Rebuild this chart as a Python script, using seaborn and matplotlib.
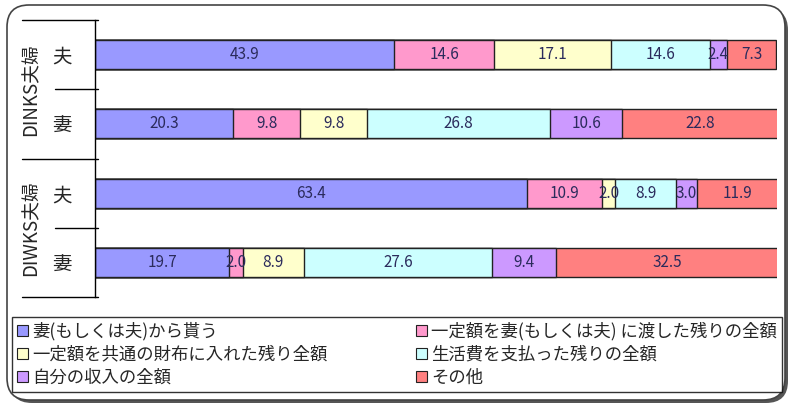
import numpy as np
import pandas as pd
import seaborn as sns
import matplotlib.pyplot as plt
from matplotlib.patches import Patch, FancyBboxPatch

sns.set_style("white")
plt.rcParams['font.family'] = ['Noto Sans CJK JP', 'DejaVu Sans']

# data
groups = ["DINKS夫婦", "DIWKS夫婦"]
rows = ["DINKS夫", "DINKS妻", "DIWKS夫", "DIWKS妻"]
persons = ["夫", "妻", "夫", "妻"]
categories = ["妻(もしくは夫)から貰う",
              "一定額を妻(もしくは夫) に渡した残りの全額",
              "一定額を共通の財布に入れた残り全額",
              "生活費を支払った残りの全額",
              "自分の収入の全額",
              "その他"]
colors = ["#9999FF", "#FF99CC", "#FFFFCC", "#CCFFFF", "#CC99FF", "#FF8080"]

v_receive = [43.9, 20.3, 63.4, 19.7]
v_pass = [14.6, 9.8, 10.9, 2.0]
v_common = [17.1, 9.8, 2.0, 8.9]
v_living = [14.6, 26.8, 8.9, 27.6]
v_own = [2.4, 10.6, 3.0, 9.4]
v_other = [7.3, 22.8, 11.9, 32.5]

df = pd.DataFrame(np.array([v_receive, v_pass, v_common, v_living, v_own, v_other]).T,
                  index=rows, columns=categories)
cum = df.cumsum(axis=1)

fig = plt.figure(figsize=(8, 4.07), dpi=100)

# rounded outer frame with a little shadow
shadow = FancyBboxPatch((0.10, 0.04), 7.78, 3.95, boxstyle="round,pad=0,rounding_size=0.22",
                        transform=fig.dpi_scale_trans, facecolor="#555555",
                        edgecolor="none", zorder=-2)
frame = FancyBboxPatch((0.07, 0.07), 7.78, 3.95, boxstyle="round,pad=0,rounding_size=0.22",
                       transform=fig.dpi_scale_trans, facecolor="white",
                       edgecolor="#444444", linewidth=1.2, zorder=-1)
fig.add_artist(shadow)
fig.add_artist(frame)

ax = fig.add_axes([95/800, 1-297/407, 682/800, 277/407])
ax.set_facecolor("none")

# stacked bars: draw cumulative totals from the last segment back to the first
for k in range(len(categories) - 1, -1, -1):
    sns.barplot(x=cum.iloc[:, k].values, y=rows, orient="h", color=colors[k],
                saturation=1, edgecolor="#222222", linewidth=1.0, width=0.42, ax=ax)

for i, r in enumerate(rows):
    left = 0
    for c in categories:
        v = df.loc[r, c]
        ax.text(left + v/2, i, f"{v:.1f}", ha="center", va="center",
                fontsize=11, color="#2b2b5c")
        left += v

ax.set_xlim(0, 100)
ax.set_ylim(3.5, -0.5)
ax.set_xticks([])
ax.set_xlabel("")
ax.set_yticks(range(len(rows)))
ax.set_yticklabels(persons, fontsize=14)
ax.tick_params(axis="y", length=0, pad=17)
for s in ["top", "right", "bottom"]:
    ax.spines[s].set_visible(False)
ax.spines["left"].set_color("black")
ax.spines["left"].set_linewidth(1.0)

# category separator lines on the left
tr = ax.get_yaxis_transform()
for y in [-0.5, 0.5, 1.5, 2.5, 3.5]:
    x0 = -0.107 if y in (-0.5, 1.5, 3.5) else -0.059
    ax.plot([x0, 0.004], [y, y], color="black", lw=1.0, transform=tr, clip_on=False)
for g, y in zip(groups, [0.5, 2.5]):
    ax.text(-0.094, y, g, rotation=90, ha="center", va="center", fontsize=13.5,
            transform=tr)

handles = [Patch(facecolor=c, edgecolor="#222222", linewidth=0.8) for c in colors]
order = [0, 2, 4, 1, 3, 5]
fig.legend([handles[i] for i in order], [categories[i] for i in order], ncol=2,
           loc="lower left", bbox_to_anchor=(12/800, 15/407, 770/800, 80/407),
           mode="expand", frameon=True, fancybox=False, edgecolor="black",
           handlelength=0.6, handleheight=0.6, handletextpad=0.25,
           borderaxespad=0, labelspacing=0.3, borderpad=0.3, fontsize=12.5)

fig.savefig("out.png", dpi=100)
